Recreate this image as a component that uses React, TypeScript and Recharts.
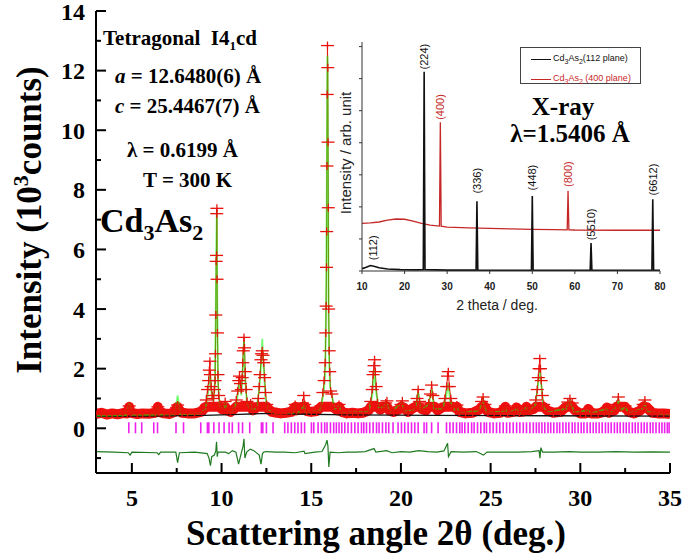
import React from 'react';
import { ComposedChart, LineChart, Line, Scatter, XAxis, YAxis, ReferenceDot } from 'recharts';

const SERIF = '"Liberation Serif", "Times New Roman", serif';
const SANS = '"Liberation Sans", Arial, sans-serif';

// ---- main pattern (2θ in deg., intensity in 10^3 counts) ----
const observed: [number, number][] = [
  [3.0, 0.48], [3.3, 0.52], [3.6, 0.46], [3.9, 0.5], [4.2, 0.47], [4.5, 0.51], [4.75, 0.5], [4.8, 0.62], [4.85, 0.75], [4.9, 0.6],
  [4.95, 0.52], [5.3, 0.48], [5.6, 0.5], [6.0, 0.49], [6.3, 0.52], [6.4, 0.6], [6.45, 0.72], [6.52, 0.55], [6.8, 0.5], [7.1, 0.48],
  [7.4, 0.56], [7.5, 0.7], [7.55, 0.78], [7.62, 0.62], [7.8, 0.52], [8.1, 0.5], [8.5, 0.5], [8.9, 0.56],
  [9.05, 0.7], [9.15, 0.95], [9.22, 1.3], [9.28, 1.6], [9.32, 1.95], [9.35, 2.25], [9.38, 1.8], [9.42, 1.4], [9.48, 1.1], [9.55, 1.0],
  [9.6, 1.3], [9.64, 1.6], [9.66, 2.5], [9.68, 3.8], [9.7, 5.6], [9.72, 5.8], [9.73, 7.2], [9.74, 7.38], [9.75, 5.0], [9.77, 3.2],
  [9.8, 1.8], [9.84, 1.1], [9.92, 0.8], [10.0, 0.65], [10.1, 0.62], [10.2, 0.9], [10.3, 0.6], [10.5, 0.55], [10.7, 0.65], [10.82, 0.95],
  [10.9, 1.25], [10.96, 1.6], [11.0, 1.75], [11.05, 1.5], [11.1, 1.3], [11.15, 1.7], [11.18, 2.2], [11.21, 2.6], [11.25, 3.05], [11.28, 2.7],
  [11.32, 1.9], [11.37, 1.3], [11.42, 0.9], [11.55, 0.75], [11.62, 0.85], [11.75, 0.6], [11.95, 0.7], [12.05, 1.0], [12.1, 1.4], [12.15, 1.8],
  [12.2, 2.3], [12.23, 2.5], [12.27, 2.6], [12.31, 2.45], [12.35, 2.2], [12.4, 1.7], [12.45, 1.2], [12.52, 0.8], [12.6, 0.65], [12.8, 0.55],
  [13.0, 0.53], [13.3, 0.5], [13.6, 0.52], [13.9, 0.55], [14.05, 0.68], [14.1, 0.8], [14.18, 0.6], [14.4, 0.62], [14.52, 0.85], [14.58, 1.1],
  [14.64, 0.8], [14.75, 0.58], [15.0, 0.55], [15.3, 0.58], [15.55, 0.75], [15.65, 1.2], [15.72, 1.6], [15.78, 2.2], [15.81, 3.2], [15.83, 4.1],
  [15.85, 5.4], [15.86, 6.6], [15.875, 8.8], [15.89, 11.2], [15.905, 12.84], [15.92, 12.1], [15.935, 9.6], [15.95, 7.4], [15.97, 4.0], [16.0, 2.6],
  [16.03, 1.9], [16.08, 1.25], [16.15, 1.15], [16.25, 0.7], [16.45, 0.6], [16.55, 0.8], [16.7, 0.55], [17.0, 0.5], [17.3, 0.52], [17.6, 0.5],
  [17.9, 0.52], [18.2, 0.6], [18.32, 0.9], [18.4, 1.3], [18.45, 1.8], [18.5, 2.1], [18.53, 2.3], [18.57, 1.9], [18.62, 1.4], [18.7, 0.85],
  [18.85, 0.62], [19.0, 0.75], [19.15, 0.85], [19.22, 0.92], [19.35, 0.6], [19.6, 0.55], [19.85, 0.62], [20.0, 0.8], [20.08, 0.92], [20.18, 0.68],
  [20.4, 0.55], [20.6, 0.65], [20.8, 0.72], [20.9, 1.0], [20.96, 1.3], [21.04, 0.9], [21.15, 0.65], [21.4, 0.6], [21.55, 0.85], [21.65, 1.15],
  [21.71, 1.45], [21.78, 1.1], [21.88, 0.75], [22.05, 0.6], [22.3, 0.7], [22.45, 1.0], [22.55, 1.4], [22.6, 1.75], [22.64, 1.9], [22.7, 1.4],
  [22.78, 1.0], [22.9, 0.75], [23.05, 0.7], [23.12, 0.78], [23.25, 0.55], [23.6, 0.5], [24.0, 0.52], [24.35, 0.62], [24.5, 0.9], [24.58, 1.05],
  [24.68, 0.8], [24.85, 0.55], [25.2, 0.5], [25.55, 0.52], [25.75, 0.65], [25.82, 0.75], [25.95, 0.52], [26.3, 0.55], [26.45, 0.7], [26.6, 0.55],
  [26.85, 0.56], [27.0, 0.75], [27.12, 0.6], [27.4, 0.65], [27.52, 0.95], [27.6, 1.3], [27.66, 1.7], [27.7, 2.0], [27.74, 2.34], [27.78, 2.0],
  [27.82, 1.6], [27.88, 1.1], [27.96, 0.8], [28.15, 0.6], [28.5, 0.52], [28.9, 0.55], [29.15, 0.7], [29.3, 0.88], [29.42, 1.0], [29.55, 0.85],
  [29.7, 0.6], [30.0, 0.5], [30.3, 0.5], [30.45, 0.65], [30.6, 0.5], [31.0, 0.5], [31.35, 0.55], [31.48, 0.7], [31.6, 0.52], [31.9, 0.6],
  [32.02, 0.8], [32.12, 1.05], [32.22, 0.75], [32.5, 0.75], [32.7, 0.55], [33.0, 0.5], [33.35, 0.6], [33.5, 0.8], [33.6, 0.95], [33.72, 0.7],
  [34.0, 0.52], [34.3, 0.5], [34.65, 0.5], [35.0, 0.48],
];

const calculated: [number, number][] = [
  [3.0, 0.42], [4.7, 0.44], [4.85, 0.85], [5.0, 0.45], [6.35, 0.45], [6.45, 0.75], [6.55, 0.46], [7.4, 0.47], [7.55, 1.1], [7.7, 0.48],
  [8.8, 0.5], [9.1, 0.65], [9.25, 1.2], [9.35, 1.9], [9.45, 1.1], [9.55, 0.9], [9.62, 1.4], [9.67, 3.5], [9.7, 5.8], [9.735, 7.3],
  [9.76, 4.5], [9.8, 1.5], [9.9, 0.75], [10.1, 0.6], [10.2, 0.9], [10.3, 0.6], [10.6, 0.55], [10.85, 0.9], [11.0, 1.55], [11.1, 1.1],
  [11.18, 1.9], [11.25, 2.9], [11.32, 1.6], [11.42, 0.8], [11.55, 0.7], [11.62, 0.82], [11.75, 0.6], [11.95, 0.68], [12.1, 1.3], [12.2, 2.1],
  [12.27, 3.0], [12.33, 2.2], [12.45, 1.0], [12.6, 0.6], [13.0, 0.5], [14.0, 0.52], [14.1, 0.75], [14.2, 0.52], [14.48, 0.6], [14.58, 0.9],
  [14.68, 0.55], [15.5, 0.6], [15.7, 1.2], [15.78, 1.8], [15.83, 4.5], [15.86, 7.5], [15.89, 11.8], [15.905, 12.5], [15.92, 11.5], [15.95, 6.5],
  [15.97, 3.8], [16.0, 2.2], [16.05, 1.4], [16.15, 1.1], [16.3, 0.65], [16.55, 0.75], [16.7, 0.52], [18.2, 0.55], [18.4, 1.1], [18.52, 1.95],
  [18.62, 1.2], [18.75, 0.7], [19.0, 0.7], [19.22, 0.85], [19.4, 0.55], [20.08, 0.85], [20.2, 0.55], [20.8, 0.65], [20.96, 1.2], [21.1, 0.6],
  [21.55, 0.8], [21.71, 1.3], [21.85, 0.65], [22.3, 0.65], [22.5, 1.0], [22.64, 1.5], [22.75, 0.9], [23.0, 0.62], [23.12, 0.72], [23.3, 0.5],
  [24.35, 0.6], [24.58, 0.95], [24.75, 0.55], [25.7, 0.55], [25.82, 0.7], [25.95, 0.5], [26.45, 0.65], [26.6, 0.5], [27.0, 0.7], [27.15, 0.55],
  [27.5, 0.8], [27.65, 1.5], [27.74, 1.95], [27.82, 1.5], [27.95, 0.7], [28.2, 0.55], [29.2, 0.65], [29.42, 0.95], [29.65, 0.55], [30.45, 0.6],
  [30.6, 0.5], [31.48, 0.65], [31.6, 0.5], [32.0, 0.7], [32.12, 0.95], [32.25, 0.62], [32.5, 0.7], [32.7, 0.52], [33.45, 0.65], [33.6, 0.85],
  [33.75, 0.55], [35.0, 0.46],
];

const background: [number, number][] = [
  [3, 0.4], [6, 0.41], [9, 0.43], [11, 0.47], [12.5, 0.5], [14, 0.48], [17, 0.45], [22, 0.43], [28, 0.42], [35, 0.41],
];

const difference: [number, number][] = [
  [3, -0.78], [4, -0.8], [4.8, -0.82], [4.9, -0.9], [5.0, -0.8], [6.4, -0.82], [6.5, -0.88], [6.6, -0.8], [7.45, -0.8], [7.55, -1.15],
  [7.65, -0.82], [8.5, -0.8], [9.2, -0.85], [9.3, -1.0], [9.38, -1.25], [9.45, -0.95], [9.6, -0.9], [9.68, -0.75], [9.72, -0.45], [9.76, -0.95],
  [9.8, -0.8], [10.2, -0.8], [10.4, -0.85], [10.6, -0.75], [10.8, -0.8], [10.95, -1.2], [11.05, -0.95], [11.2, -0.6], [11.25, -0.35], [11.3, -1.0],
  [11.4, -0.8], [11.6, -0.7], [11.8, -0.75], [12.1, -0.9], [12.2, -1.2], [12.28, -0.85], [12.35, -0.8], [12.5, -0.78], [13, -0.8], [13.5, -0.8],
  [14.1, -0.82], [14.6, -0.77], [14.65, -0.85], [15.2, -0.8], [15.6, -0.78], [15.8, -0.55], [15.88, -0.4], [15.93, -0.6], [15.98, -1.3], [16.05, -0.8],
  [16.5, -0.82], [17, -0.8], [17.5, -0.8], [18, -0.78], [18.5, -0.68], [18.6, -0.8], [19.2, -0.75], [19.5, -0.82], [20, -0.78], [20.5, -0.8],
  [21, -0.75], [21.5, -0.78], [22, -0.8], [22.4, -0.76], [22.6, -0.5], [22.65, -0.95], [22.8, -0.78], [23.5, -0.8], [24.2, -0.78], [24.6, -0.9],
  [24.8, -0.8], [25.5, -0.8], [26.5, -0.8], [27.3, -0.78], [27.7, -0.75], [27.75, -1.0], [27.8, -0.65], [27.9, -0.8], [28.5, -0.8], [29.4, -0.78],
  [30, -0.8], [31, -0.8], [32, -0.78], [33, -0.8], [34, -0.79], [35, -0.8],
];

// Bragg reflection positions (2θ)
const braggPos = [
  4.83, 5.2, 5.55, 6.22, 6.43, 7.46, 7.88, 8.84, 9.21, 9.29, 9.57, 9.86, 10.14, 10.42, 10.6, 10.95, 11.17, 11.57, 12.22, 12.3,
  12.5, 12.87, 13.52, 13.7, 13.89, 14.08, 14.26, 14.45, 14.63, 15.01, 15.14, 15.38, 15.57, 15.75, 15.88, 16.07, 16.25, 16.4, 16.55, 16.7,
  16.87, 17.05, 17.24, 17.43, 17.61, 17.8, 17.93, 18.08, 18.26, 18.45, 18.64, 18.78, 18.97, 19.16, 19.32, 19.56, 19.84, 20.03, 20.21, 20.4,
  20.59, 20.77, 20.96, 21.29, 21.43, 21.71, 22.07, 22.54, 22.73, 22.91, 23.1, 23.28, 23.41, 23.56, 23.75, 23.94, 24.08, 24.27, 24.45, 24.64,
  24.77, 24.96, 25.14, 25.33, 25.51, 25.7, 25.89, 26.07, 26.26, 26.45, 26.63, 26.82, 27.0, 27.19, 27.38, 27.55, 27.7, 27.86, 28.02, 28.2,
  28.35, 28.52, 28.7, 28.85, 29.03, 29.2, 29.36, 29.55, 29.7, 29.88, 30.05, 30.2, 30.38, 30.55, 30.72, 30.88, 31.05, 31.22, 31.4, 31.56,
  31.72, 31.9, 32.06, 32.22, 32.4, 32.56, 32.72, 32.9, 33.06, 33.22, 33.4, 33.56, 33.72, 33.9, 34.05, 34.22, 34.4, 34.55, 34.7, 34.85, 34.95,
];

const xTicks = [5, 7.5, 10, 12.5, 15, 17.5, 20, 22.5, 25, 27.5, 30, 32.5, 35];
const yTicks = [-1, 0, 1, 2, 3, 4, 5, 6, 7, 8, 9, 10, 11, 12, 13, 14];

// ---- inset: lab X-ray patterns (arb. units) ----
const xray112: [number, number][] = [
  [10, 1.0], [11, 1.6], [12, 2.4], [13, 2.0], [14, 1.4], [16, 0.9], [19, 0.6], [23, 0.5], [24.4, 0.6], [24.6, 87],
  [24.8, 0.6], [30, 0.4], [36.8, 0.4], [37.0, 30.4], [37.2, 0.4], [45, 0.3], [49.8, 0.3], [50.0, 32.8], [50.2, 0.3], [58, 0.3],
  [63.6, 0.3], [63.8, 12.2], [64.0, 0.3], [70, 0.3], [78.1, 0.3], [78.3, 31.3], [78.5, 0.3], [80, 0.3],
];
const xray400: [number, number][] = [
  [10, 20.8], [12, 21.0], [14, 21.4], [16, 22.2], [18, 22.7], [20, 22.6], [22, 21.8], [24, 20.8], [26, 20.0], [28.2, 19.6],
  [28.4, 65], [28.6, 19.6], [30, 19.2], [35, 18.8], [40, 18.6], [45, 18.4], [50, 18.2], [55, 18.1], [58.2, 18.0], [58.4, 35],
  [58.6, 18.0], [60, 17.9], [70, 17.8], [80, 17.8],
];
const insetPeakX = [12.7, 24.6, 28.4, 37.0, 50.0, 58.4, 63.8, 78.3];
const insetPeakY = [4.7, 88, 66, 33.8, 35.2, 36.7, 13.4, 33];
const insetPeakText = ['(112)', '(224)', '(400)', '(336)', '(448)', '(800)', '(5510)', '(6612)'];
const insetPeakColor = ['#111', '#111', '#c62828', '#111', '#111', '#c62828', '#111', '#111'];
const insetXTicks = [10, 20, 30, 40, 50, 60, 70, 80];
const insetYTicks = [0, 7, 14, 21, 28, 35, 42, 49, 56, 63, 70, 77, 84, 91, 98];

const toXY = (arr: [number, number][]) => arr.map(([x, y]) => ({ x, y }));
const obsData = toXY(observed);
const bandData = observed.map(([x, y]) => ({ x, y: Math.min(y, 0.72) }));
const calcData = toXY(calculated);
const bgData = toXY(background);
const diffData = toXY(difference);
const braggData = braggPos.map((x) => ({ x, y: 0 }));

const ObsCross = (p: any) => {
  const { cx, cy } = p;
  if (cx == null || cy == null) return <g />;
  return (
    <g stroke="#e8120c" strokeWidth={1.3}>
      <line x1={cx - 6.5} x2={cx + 6.5} y1={cy} y2={cy} />
      <line x1={cx} x2={cx} y1={cy - 4} y2={cy + 4} />
    </g>
  );
};

const BraggTick = (p: any) => {
  const { cx, cy } = p;
  if (cx == null || cy == null) return <g />;
  return <line x1={cx} x2={cx} y1={cy - 6} y2={cy + 5} stroke="#ee22ee" strokeWidth={1.6} />;
};

const BottomTick = (p: any) => {
  const { x, y, payload } = p;
  const major = payload.value % 5 === 0;
  return (
    <g>
      <line x1={x} x2={x} y1={y} y2={y - (major ? 10 : 5)} stroke="#000" strokeWidth={2} />
      {major && (
        <text x={x} y={y + 33} textAnchor="middle" fontFamily={SERIF} fontWeight="bold" fontSize={24} fill="#000">
          {payload.value}
        </text>
      )}
    </g>
  );
};

const TopTick = (p: any) => {
  const { x, y, payload } = p;
  const major = payload.value % 5 === 0;
  return <line x1={x} x2={x} y1={y} y2={y + (major ? 10 : 5)} stroke="#000" strokeWidth={2} />;
};

const LeftTick = (p: any) => {
  const { x, y, payload } = p;
  const major = payload.value % 2 === 0;
  return (
    <g>
      <line x1={x} x2={x + (major ? 10 : 5)} y1={y} y2={y} stroke="#000" strokeWidth={2} />
      {major && (
        <text x={x - 11} y={y} dy="0.36em" textAnchor="end" fontFamily={SERIF} fontWeight="bold" fontSize={24} fill="#000">
          {payload.value}
        </text>
      )}
    </g>
  );
};

const RightTick = (p: any) => {
  const { x, y, payload } = p;
  const major = payload.value % 2 === 0;
  return <line x1={x} x2={x - (major ? 10 : 5)} y1={y} y2={y} stroke="#000" strokeWidth={2} />;
};

const InsetBottomTick = (p: any) => {
  const { x, y, payload } = p;
  return (
    <g>
      <line x1={x} x2={x} y1={y} y2={y + 3} stroke="#333" />
      <text x={x} y={y + 19} textAnchor="middle" fontFamily={SANS} fontWeight="bold" fontSize={10} fill="#222">
        {payload.value}
      </text>
    </g>
  );
};

const InsetLeftTick = (p: any) => {
  const { x, y } = p;
  return <line x1={x} x2={x - 3} y1={y} y2={y} stroke="#333" />;
};

const PeakText = (p: any) => {
  const { viewBox, text, color } = p;
  if (!viewBox) return null;
  const x = viewBox.x + viewBox.width / 2 + 4;
  const y = viewBox.y + viewBox.height / 2;
  return (
    <text x={x} y={y} transform={`rotate(-90 ${x} ${y})`} fontFamily={SANS} fontSize={11} fill={color}>
      {text}
    </text>
  );
};

export default function App() {
  return (
    <div style={{ position: 'absolute', left: 0, top: 0, width: 685, height: 554, background: '#fff' }}>
      <ComposedChart width={685} height={554} margin={{ top: 11, right: 15, bottom: 0, left: 0 }}>
        <XAxis
          dataKey="x"
          type="number"
          domain={[3, 35]}
          allowDataOverflow
          ticks={xTicks}
          height={81}
          tickSize={0}
          tickMargin={0}
          tick={<BottomTick />}
          axisLine={{ stroke: '#000', strokeWidth: 2 }}
        />
        <XAxis
          xAxisId="top"
          orientation="top"
          type="number"
          domain={[3, 35]}
          allowDataOverflow
          ticks={xTicks}
          height={0}
          tickSize={0}
          tickMargin={0}
          tick={<TopTick />}
          axisLine={{ stroke: '#000', strokeWidth: 2 }}
        />
        <YAxis
          dataKey="y"
          type="number"
          domain={[-1.5, 14]}
          allowDataOverflow
          ticks={yTicks}
          width={96}
          tickSize={0}
          tickMargin={0}
          tick={<LeftTick />}
          axisLine={{ stroke: '#000', strokeWidth: 2 }}
        />
        <YAxis
          yAxisId="right"
          orientation="right"
          type="number"
          domain={[-1.5, 14]}
          allowDataOverflow
          ticks={yTicks}
          width={0}
          tickSize={0}
          tickMargin={0}
          tick={<RightTick />}
          axisLine={{ stroke: '#000', strokeWidth: 2 }}
        />
        <Line data={bandData} dataKey="y" stroke="#f01010" strokeWidth={10} strokeLinejoin="round" dot={false} isAnimationActive={false} />
        <Line data={obsData} dataKey="y" stroke="#e8120c" strokeWidth={1} dot={false} isAnimationActive={false} />
        <Scatter data={obsData} dataKey="y" shape={<ObsCross />} isAnimationActive={false} />
        <Line data={bgData} dataKey="y" stroke="#111" strokeWidth={1.3} dot={false} isAnimationActive={false} />
        <Line data={calcData} dataKey="y" stroke="#00ff00" strokeOpacity={0.55} strokeWidth={1.8} dot={false} isAnimationActive={false} />
        <Scatter data={braggData} dataKey="y" shape={<BraggTick />} isAnimationActive={false} />
        <Line data={diffData} dataKey="y" stroke="#1f7a1f" strokeWidth={1.2} dot={false} isAnimationActive={false} />
      </ComposedChart>

      <svg width={685} height={554} style={{ position: 'absolute', left: 0, top: 0, pointerEvents: 'none' }}>
        <g fontFamily={SERIF} fontWeight="bold" fill="#000">
          <text x={103} y={45} fontSize={21} style={{ whiteSpace: 'pre' }}>
            {'Tetragonal  I4'}
            <tspan dy={5} fontSize={13}>1</tspan>
            <tspan dy={-5}>cd</tspan>
          </text>
          <text x={115} y={83} fontSize={21}>
            <tspan fontStyle="italic">a</tspan> = 12.6480(6) Å
          </text>
          <text x={115} y={113} fontSize={21}>
            <tspan fontStyle="italic">c</tspan> = 25.4467(7) Å
          </text>
          <text x={127} y={157} fontSize={21}>λ = 0.6199 Å</text>
          <text x={143} y={187} fontSize={21}>T = 300 K</text>
          <text x={100} y={232} fontSize={34}>
            Cd<tspan dy={8} fontSize={22}>3</tspan>
            <tspan dy={-8}>As</tspan>
            <tspan dy={8} fontSize={22}>2</tspan>
          </text>
          <text x={41} y={220} transform="rotate(-90 41 220)" textAnchor="middle" fontSize={35}>
            Intensity (10<tspan dy={-13} fontSize={22}>3</tspan>
            <tspan dy={13}>counts)</tspan>
          </text>
          <text x={376} y={545} textAnchor="middle" fontSize={35}>
            Scattering angle 2θ (deg.)
          </text>
        </g>
      </svg>

      <div style={{ position: 'absolute', left: 337, top: 12, width: 331, height: 306, background: '#fff' }}>
        <LineChart width={331} height={306} margin={{ top: 30, right: 8, bottom: 0, left: 0 }}>
          <XAxis
            xAxisId="b"
            dataKey="x"
            type="number"
            domain={[10, 80]}
            allowDataOverflow
            ticks={insetXTicks}
            height={47}
            tickSize={0}
            tickMargin={0}
            tick={<InsetBottomTick />}
            axisLine={{ stroke: '#333' }}
          />
          <XAxis xAxisId="t" orientation="top" type="number" domain={[10, 80]} allowDataOverflow height={0} tick={false} tickLine={false} axisLine={{ stroke: '#333' }} />
          <YAxis
            yAxisId="l"
            dataKey="y"
            type="number"
            domain={[0, 100]}
            allowDataOverflow
            ticks={insetYTicks}
            width={25}
            tickSize={0}
            tickMargin={0}
            tick={<InsetLeftTick />}
            axisLine={{ stroke: '#333' }}
          />
          <YAxis yAxisId="r" orientation="right" type="number" domain={[0, 100]} allowDataOverflow width={0} tick={false} tickLine={false} axisLine={{ stroke: '#333' }} />
          <Line xAxisId="b" yAxisId="l" data={toXY(xray400)} dataKey="y" stroke="#c62828" strokeWidth={1.3} dot={false} isAnimationActive={false} />
          <Line xAxisId="b" yAxisId="l" data={toXY(xray112)} dataKey="y" stroke="#111" strokeWidth={1.6} dot={false} isAnimationActive={false} />
          {insetPeakX.map((x, i) => (
            <ReferenceDot
              key={insetPeakText[i]}
              xAxisId="b"
              yAxisId="l"
              x={x}
              y={insetPeakY[i]}
              r={0}
              fill="none"
              stroke="none"
              label={<PeakText text={insetPeakText[i]} color={insetPeakColor[i]} />}
            />
          ))}
        </LineChart>

        <svg width={331} height={306} style={{ position: 'absolute', left: 0, top: 0, pointerEvents: 'none' }}>
          <text x={226} y={103} textAnchor="middle" fontFamily={SERIF} fontWeight="bold" fontSize={25} fill="#000">X-ray</text>
          <text x={233} y={130} textAnchor="middle" fontFamily={SERIF} fontWeight="bold" fontSize={25} fill="#000">λ=1.5406 Å</text>
          <text x={160} y={298} textAnchor="middle" fontFamily={SANS} fontSize={14} fill="#222">2 theta / deg.</text>
          <text x={14} y={141} transform="rotate(-90 14 141)" textAnchor="middle" fontFamily={SANS} fontSize={15} fill="#222">
            Intensity / arb. unit
          </text>
        </svg>

        <div
          style={{
            position: 'absolute',
            left: 183,
            top: 35,
            width: 121,
            height: 37,
            border: '1px solid #444',
            fontFamily: SANS,
            fontSize: 9,
            lineHeight: '16px',
            padding: '2px 0 0 10px',
            boxSizing: 'border-box',
          }}
        >
          <div style={{ display: 'flex', alignItems: 'center', color: '#111' }}>
            <span style={{ display: 'inline-block', width: 20, height: 0, borderTop: '1.5px solid #111', marginRight: 2 }} />
            <span>Cd<sub style={{ fontSize: 7 }}>3</sub>As<sub style={{ fontSize: 7 }}>2</sub>(112 plane)</span>
          </div>
          <div style={{ display: 'flex', alignItems: 'center', color: '#c62828' }}>
            <span style={{ display: 'inline-block', width: 20, height: 0, borderTop: '1.5px solid #c62828', marginRight: 2 }} />
            <span>Cd<sub style={{ fontSize: 7 }}>3</sub>As<sub style={{ fontSize: 7 }}>2</sub> (400 plane)</span>
          </div>
        </div>
      </div>
    </div>
  );
}
